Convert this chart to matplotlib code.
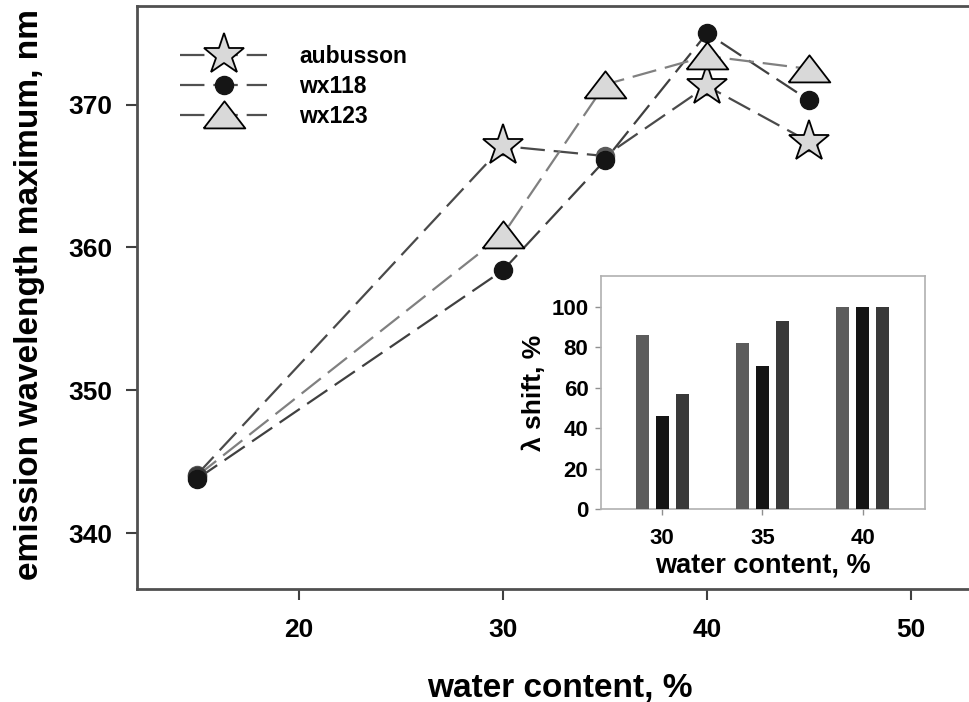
import matplotlib
matplotlib.use("Agg")
import matplotlib.pyplot as plt
from matplotlib.lines import Line2D
import numpy as np

plt.rcParams['font.family'] = ['Liberation Sans', 'DejaVu Sans']
plt.rcParams['font.weight'] = 'bold'

# ---- main chart data ----
water = [15, 30, 35, 40, 45]
aubusson = [344.1, 367.1, 366.4, 371.3, 367.4]
wx118 = [343.8, 358.4, 366.1, 375.0, 370.3]
wx123 = [344.0, 360.9, 371.4, 373.4, 372.5]
series_names = ["aubusson", "wx118", "wx123"]
x_ticks = [20, 30, 40, 50]
y_ticks = [340, 350, 360, 370]

# ---- inset data ----
inset_cats = ["30", "35", "40"]
inset_aubusson = [86, 82, 100]
inset_wx118 = [46, 71, 100]
inset_wx123 = [57, 93, 100]
inset_yticks = [0, 20, 40, 60, 80, 100]

W, H = 969, 702
fig = plt.figure(figsize=(W / 100, H / 100), dpi=100)

# main axes (extends beyond right edge, as in the reference)
xlim = (12.06, 55.0)
ylim = (336.1, 376.9)
px_per_x = 20.4
left_px, bottom_px, top_px = 137, 589, 6
ax = fig.add_axes([left_px / W, (H - bottom_px) / H,
                   (xlim[1] - xlim[0]) * px_per_x / W, (bottom_px - top_px) / H])
ax.set_xlim(*xlim)
ax.set_ylim(*ylim)

dash = (11, 4)
star_face = "#d9d9d9"
tri = [(-1, -0.62), (1, -0.62), (0, 0.68), (-1, -0.62)]

# aubusson: dashed line, base circles hidden behind stars
ax.plot(water, aubusson, color="#4a4a4a", lw=1.6, dashes=dash, zorder=2)
ax.plot(water, aubusson, ls="none", marker="o", ms=13, color="#5a5a5a", zorder=3)
ax.plot(water, aubusson, ls="none", marker="*", ms=31, markerfacecolor=star_face,
        markeredgecolor="black", markeredgewidth=1.3, markevery=[1, 3, 4], zorder=5)

# wx118: circles
ax.plot(water, wx118, color="#404040", lw=1.6, dashes=dash, zorder=2)
ax.plot(water, wx118, ls="none", marker="o", ms=13, color="#151515", zorder=4)

# wx123: triangles
ax.plot(water, wx123, color="#808080", lw=1.6, dashes=dash, zorder=2)
ax.plot(water, wx123, ls="none", marker="o", ms=13, color="#3a3a3a", markevery=[0], zorder=3)
ax.plot(water, wx123, ls="none", marker=tri, ms=30, markerfacecolor=star_face,
        markeredgecolor="black", markeredgewidth=1.3, markevery=[1, 2, 3, 4], zorder=5)

for s in ["left", "bottom", "top"]:
    ax.spines[s].set_color("#505050")
    ax.spines[s].set_linewidth(2.0)
ax.spines["right"].set_visible(False)

ax.set_xticks(x_ticks)
ax.set_yticks(y_ticks)
ax.tick_params(axis="both", direction="out", length=8, width=1.5, color="#404040",
               labelsize=19)
ax.tick_params(axis="x", pad=13)
ax.tick_params(axis="y", pad=10)
for lab in ax.get_xticklabels() + ax.get_yticklabels():
    lab.set_fontweight("bold")

fig.text(560 / W, 1 - 688 / H, "water content, %", ha="center", va="center",
         fontsize=24, fontweight="bold")
fig.text(30 / W, 1 - 295 / H, "emission wavelength maximum, nm", ha="center",
         va="center", rotation=90, fontsize=24, fontweight="bold")

handles = [
    Line2D([], [], color="#505050", lw=1.6, dashes=dash, marker="*", ms=31,
           markerfacecolor=star_face, markeredgecolor="black", markeredgewidth=1.3),
    Line2D([], [], color="#505050", lw=1.6, dashes=dash, marker="o", ms=13,
           markerfacecolor="#151515", markeredgecolor="#151515"),
    Line2D([], [], color="#505050", lw=1.6, dashes=dash, marker=tri, ms=30,
           markerfacecolor=star_face, markeredgecolor="black", markeredgewidth=1.3),
]
leg = ax.legend(handles, series_names, loc="upper left", frameon=False,
                bbox_to_anchor=(180 / W, 1 - 45 / H), bbox_transform=fig.transFigure,
                borderpad=0, borderaxespad=0, handlelength=3.8, handletextpad=1.4,
                labelspacing=0.3, prop={"size": 16.5, "weight": "bold"})

# ---- inset ----
il, ir, it, ib = 601, 925, 276, 509
iax = fig.add_axes([il / W, (H - ib) / H, (ir - il) / W, (ib - it) / H])
xpos = np.arange(len(inset_cats))
bw = 0.13
off = 0.2
iax.bar(xpos - off, inset_aubusson, width=bw, color="#5c5c5c", zorder=3)
iax.bar(xpos, inset_wx118, width=bw, color="#151515", zorder=3)
iax.bar(xpos + off, inset_wx123, width=bw, color="#393939", zorder=3)
iax.set_xlim(-0.61, 2.62)
iax.set_ylim(0, 115.3)
iax.set_xticks(xpos)
iax.set_xticklabels(inset_cats)
iax.set_yticks(inset_yticks)
for s in iax.spines.values():
    s.set_color("#b0b0b0")
    s.set_linewidth(1.2)
iax.tick_params(axis="both", direction="out", length=4, width=1, color="#909090",
                labelsize=16)
iax.tick_params(axis="x", pad=10)
iax.tick_params(axis="y", pad=5)
for lab in iax.get_xticklabels() + iax.get_yticklabels():
    lab.set_fontweight("bold")
iax.set_xlabel("water content, %", fontsize=19.5, fontweight="bold", labelpad=2)
iax.set_ylabel("λ shift, %", fontsize=19, fontweight="bold", labelpad=4)

fig.savefig("out.png", dpi=100)
